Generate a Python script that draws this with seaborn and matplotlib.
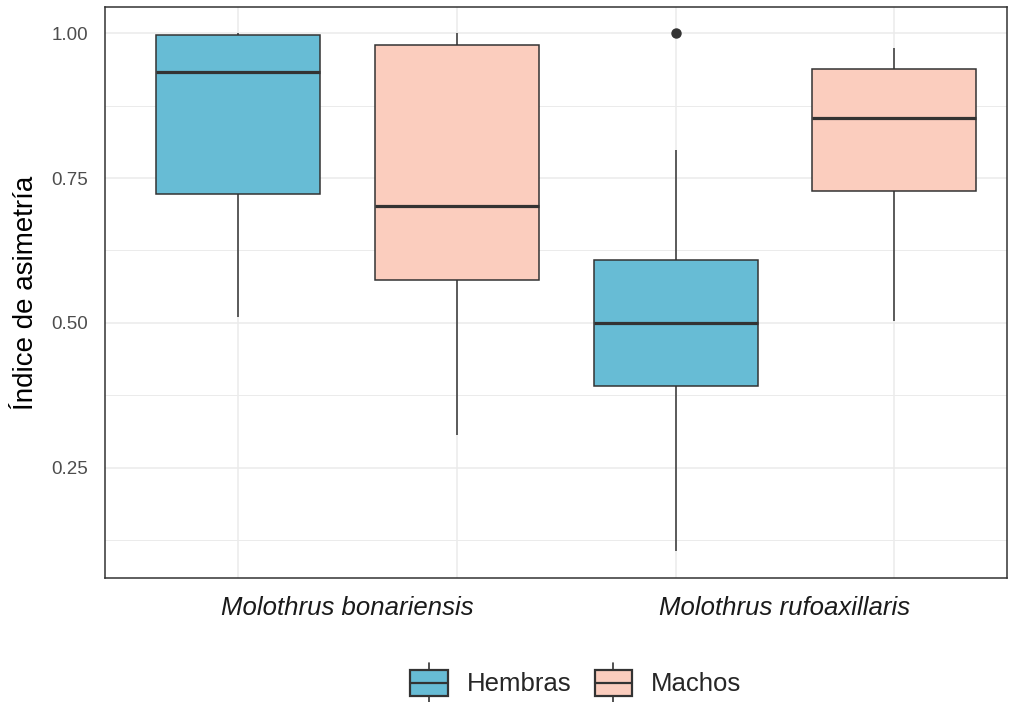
import matplotlib
matplotlib.use("Agg")
import matplotlib.pyplot as plt
from matplotlib.legend_handler import HandlerBase
from matplotlib.patches import Rectangle
from matplotlib.lines import Line2D
import matplotlib.transforms as mtransforms
import seaborn as sns
import pandas as pd

# Asymmetry index per group (species x sex)
especies = ["Molothrus bonariensis", "Molothrus rufoaxillaris"]
sexos = ["Hembras", "Machos"]
bon_hembras = [0.510, 0.723, 0.933, 0.997, 1.000]
bon_machos = [0.306, 0.574, 0.701, 0.979, 1.000]
ruf_hembras = [0.107, 0.300, 0.391, 0.450, 0.500, 0.550, 0.609, 0.799, 1.000]
ruf_machos = [0.503, 0.728, 0.853, 0.938, 0.974]

colores = {"Hembras": "#67BCD5", "Machos": "#FBCDBE"}
borde = "#333333"

grupos = [
    ("bon.H", "Hembras", bon_hembras),
    ("bon.M", "Machos", bon_machos),
    ("ruf.H", "Hembras", ruf_hembras),
    ("ruf.M", "Machos", ruf_machos),
]
rows = []
for g, s, vals in grupos:
    for v in vals:
        rows.append({"grupo": g, "sexo": s, "indice": v})
df = pd.DataFrame(rows)

sns.set_theme(style="white")
plt.rcParams["font.family"] = ["Liberation Sans", "DejaVu Sans"]

fig = plt.figure(figsize=(10.16, 7.02), dpi=100)
ax = fig.add_axes([105 / 1016, 1 - 578 / 702, (1007 - 105) / 1016, (578 - 7) / 702])

sns.boxplot(
    data=df, x="grupo", y="indice", hue="sexo", order=[g[0] for g in grupos],
    hue_order=sexos, palette=colores, saturation=1, dodge=False, width=0.75,
    ax=ax, linewidth=1.1, linecolor=borde, legend=False,
    boxprops=dict(edgecolor=borde),
    medianprops=dict(color=borde, linewidth=2.3),
    whiskerprops=dict(color=borde, linewidth=1.1),
    capprops=dict(linewidth=0),
    flierprops=dict(marker="o", markerfacecolor=borde, markeredgecolor=borde,
                    markersize=6.5),
)

ax.set_ylim(0.06, 1.045)
ax.set_xlim(-0.61, 3.515)
ax.set_yticks([0.25, 0.50, 0.75, 1.00])
ax.set_yticklabels(["0.25", "0.50", "0.75", "1.00"])
ax.set_yticks([0.125, 0.375, 0.625, 0.875], minor=True)
ax.set_xticks([0, 1, 2, 3])
ax.set_xticklabels([])
ax.grid(True, which="major", color="#EBEBEB", linewidth=1.1)
ax.grid(True, which="minor", axis="y", color="#EBEBEB", linewidth=0.7)
ax.set_axisbelow(True)
for sp in ax.spines.values():
    sp.set_color(borde)
    sp.set_linewidth(1.1)
    sp.set_visible(True)
ax.tick_params(axis="both", which="major", length=4, width=1.1, color=borde,
               labelsize=13.5, labelcolor="#4D4D4D", pad=8)
ax.tick_params(axis="y", which="minor", length=0)
ax.set_xlabel("")
ax.set_ylabel("Índice de asimetría", fontsize=20, color="black", labelpad=9)

trans = mtransforms.blended_transform_factory(ax.transData, ax.transAxes)
for i, esp in enumerate(especies):
    ax.text(2 * i + 0.5, -0.032, esp, transform=trans, ha="center", va="top",
            fontsize=18.5, style="italic", color="#1A1A1A")


class BoxKey(HandlerBase):
    def create_artists(self, legend, orig_handle, xdescent, ydescent,
                       width, height, fontsize, trans):
        fc = orig_handle.get_facecolor()
        bw, bh = width, height * 0.72
        y0 = (height - bh) / 2 - ydescent
        x0 = -xdescent
        rect = Rectangle((x0, y0), bw, bh, facecolor=fc, edgecolor=borde,
                         linewidth=1.6, transform=trans)
        med = Line2D([x0, x0 + bw], [y0 + bh / 2] * 2, color=borde,
                     linewidth=1.6, transform=trans)
        top = Line2D([x0 + bw / 2] * 2, [y0 + bh, y0 + bh + height * 0.2],
                     color=borde, linewidth=1.2, transform=trans)
        bot = Line2D([x0 + bw / 2] * 2, [y0, y0 - height * 0.2],
                     color=borde, linewidth=1.2, transform=trans)
        return [top, bot, rect, med]


handles = [Rectangle((0, 0), 1, 1, facecolor=colores[s]) for s in sexos]
fig.legend(handles, sexos, handler_map={Rectangle: BoxKey()},
           loc="center", bbox_to_anchor=(576 / 1016, 1 - 683 / 702), ncol=2,
           frameon=False, fontsize=18.5, handlelength=1.45, handleheight=1.75,
           handletextpad=0.75, columnspacing=0.9)

fig.savefig("out.png", dpi=100)
